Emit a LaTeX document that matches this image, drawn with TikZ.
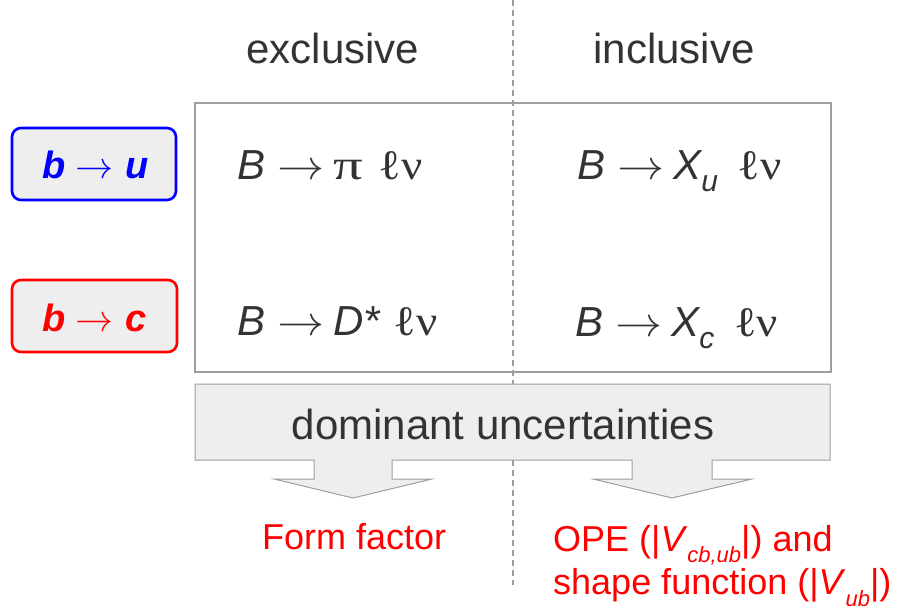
\documentclass[tikz,border=0pt]{standalone}
\usepackage{unicode-math}
\usepackage{graphicx}
\setmainfont{Liberation Sans}
\setmathfont{Latin Modern Math}
\newfontfamily\grk{Liberation Serif}
\definecolor{txt}{HTML}{333333}
\definecolor{edge}{HTML}{9E9E9E}
\definecolor{boxfill}{HTML}{EEEEEE}
\newcommand{\sub}[1]{\raisebox{-12pt}{\fontsize{30}{30}\selectfont\itshape #1}}
\newcommand{\subs}[1]{\raisebox{-0.32em}{\fontsize{22}{22}\selectfont\itshape #1}}
\newcommand{\arr}{\hspace{12pt}\scalebox{1.12}[1]{$\rightarrow$}\hspace{9pt}}
\newcommand{\lnu}{{\grk\upshape\scalebox{1.12}[1]{ℓν}}}
\begin{document}
\begin{tikzpicture}[x=1pt,y=-1pt,
  big/.style={font=\fontsize{42}{48}\selectfont, text=txt, inner sep=0pt},
  quark/.style={draw, line width=2.6pt, rounded corners=9pt, fill=boxfill, inner sep=0pt},
  quarktext/.style={font=\fontsize{38}{40}\selectfont\bfseries\itshape, inner sep=0pt, anchor=base west},
  note/.style={font=\fontsize{36}{40}\selectfont, text=red, inner sep=0pt, align=left},
  frame/.style={draw=edge, line width=1.5pt},
  divider/.style={draw=edge, line width=1.2pt, dash pattern=on 6pt off 4pt}]
\useasboundingbox (0,0) rectangle (899,609);
% divider
\draw[divider] (513,0) -- (513,585);
% main table frame
\draw[frame] (195,103) rectangle (831,372);
% column headers
\node[big] (excl) at (333,48) {exclusive};
\node[big] (incl) at (674,48) {inclusive};
% quark transition boxes
\draw[quark, draw=blue] (12,128) rectangle (176,200);
\node[quarktext, text=blue] (bu) at (42,179)
  {b\hspace{10pt}$\boldsymbol{\rightarrow}$\hspace{12pt}u};
\draw[quark, draw=red] (12,280) rectangle (177,352);
\node[quarktext, text=red] (bc) at (42,331)
  {b\hspace{10pt}$\boldsymbol{\rightarrow}$\hspace{12pt}c};
% decays
\node[big, anchor=base west] (pi) at (237,180) {\itshape B\arr{\grk\upshape\scalebox{1.4}[1]{π}}\hspace{16pt}\lnu};
\node[big, anchor=base west] (xu) at (577,180) {\itshape B\arr\itshape X\sub{u}\hspace{20pt}\lnu};
\node[big, anchor=base west] (ds) at (237,336) {\itshape B\arr\itshape D*\hspace{14pt}\lnu};
\node[big, anchor=base west] (xc) at (575,337) {\itshape B\arr\itshape X\sub{c}\hspace{20pt}\lnu};
% banner with two arrows
\draw[draw=edge, line width=1pt, fill=boxfill]
  (195,384) -- (830,384) -- (830,460) -- (712,460) -- (712,479) -- (752,479) -- (672,498)
  -- (593,479) -- (632,479) -- (632,460) -- (392,460) -- (392,479) -- (432,479) -- (353,498)
  -- (274,479) -- (314,479) -- (314,460) -- (195,460) -- cycle;
\node[big] (dom) at (503,424) {dominant uncertainties};
% uncertainty notes
\node[note, anchor=west] (ff) at (262,537) {Form factor};
\node[note, anchor=north west] (ope) at (553,525) {OPE (|\textit{V}\subs{cb,ub}|) and\\[2pt]shape function (|\textit{V}\subs{ub}|)};
\end{tikzpicture}
\end{document}
